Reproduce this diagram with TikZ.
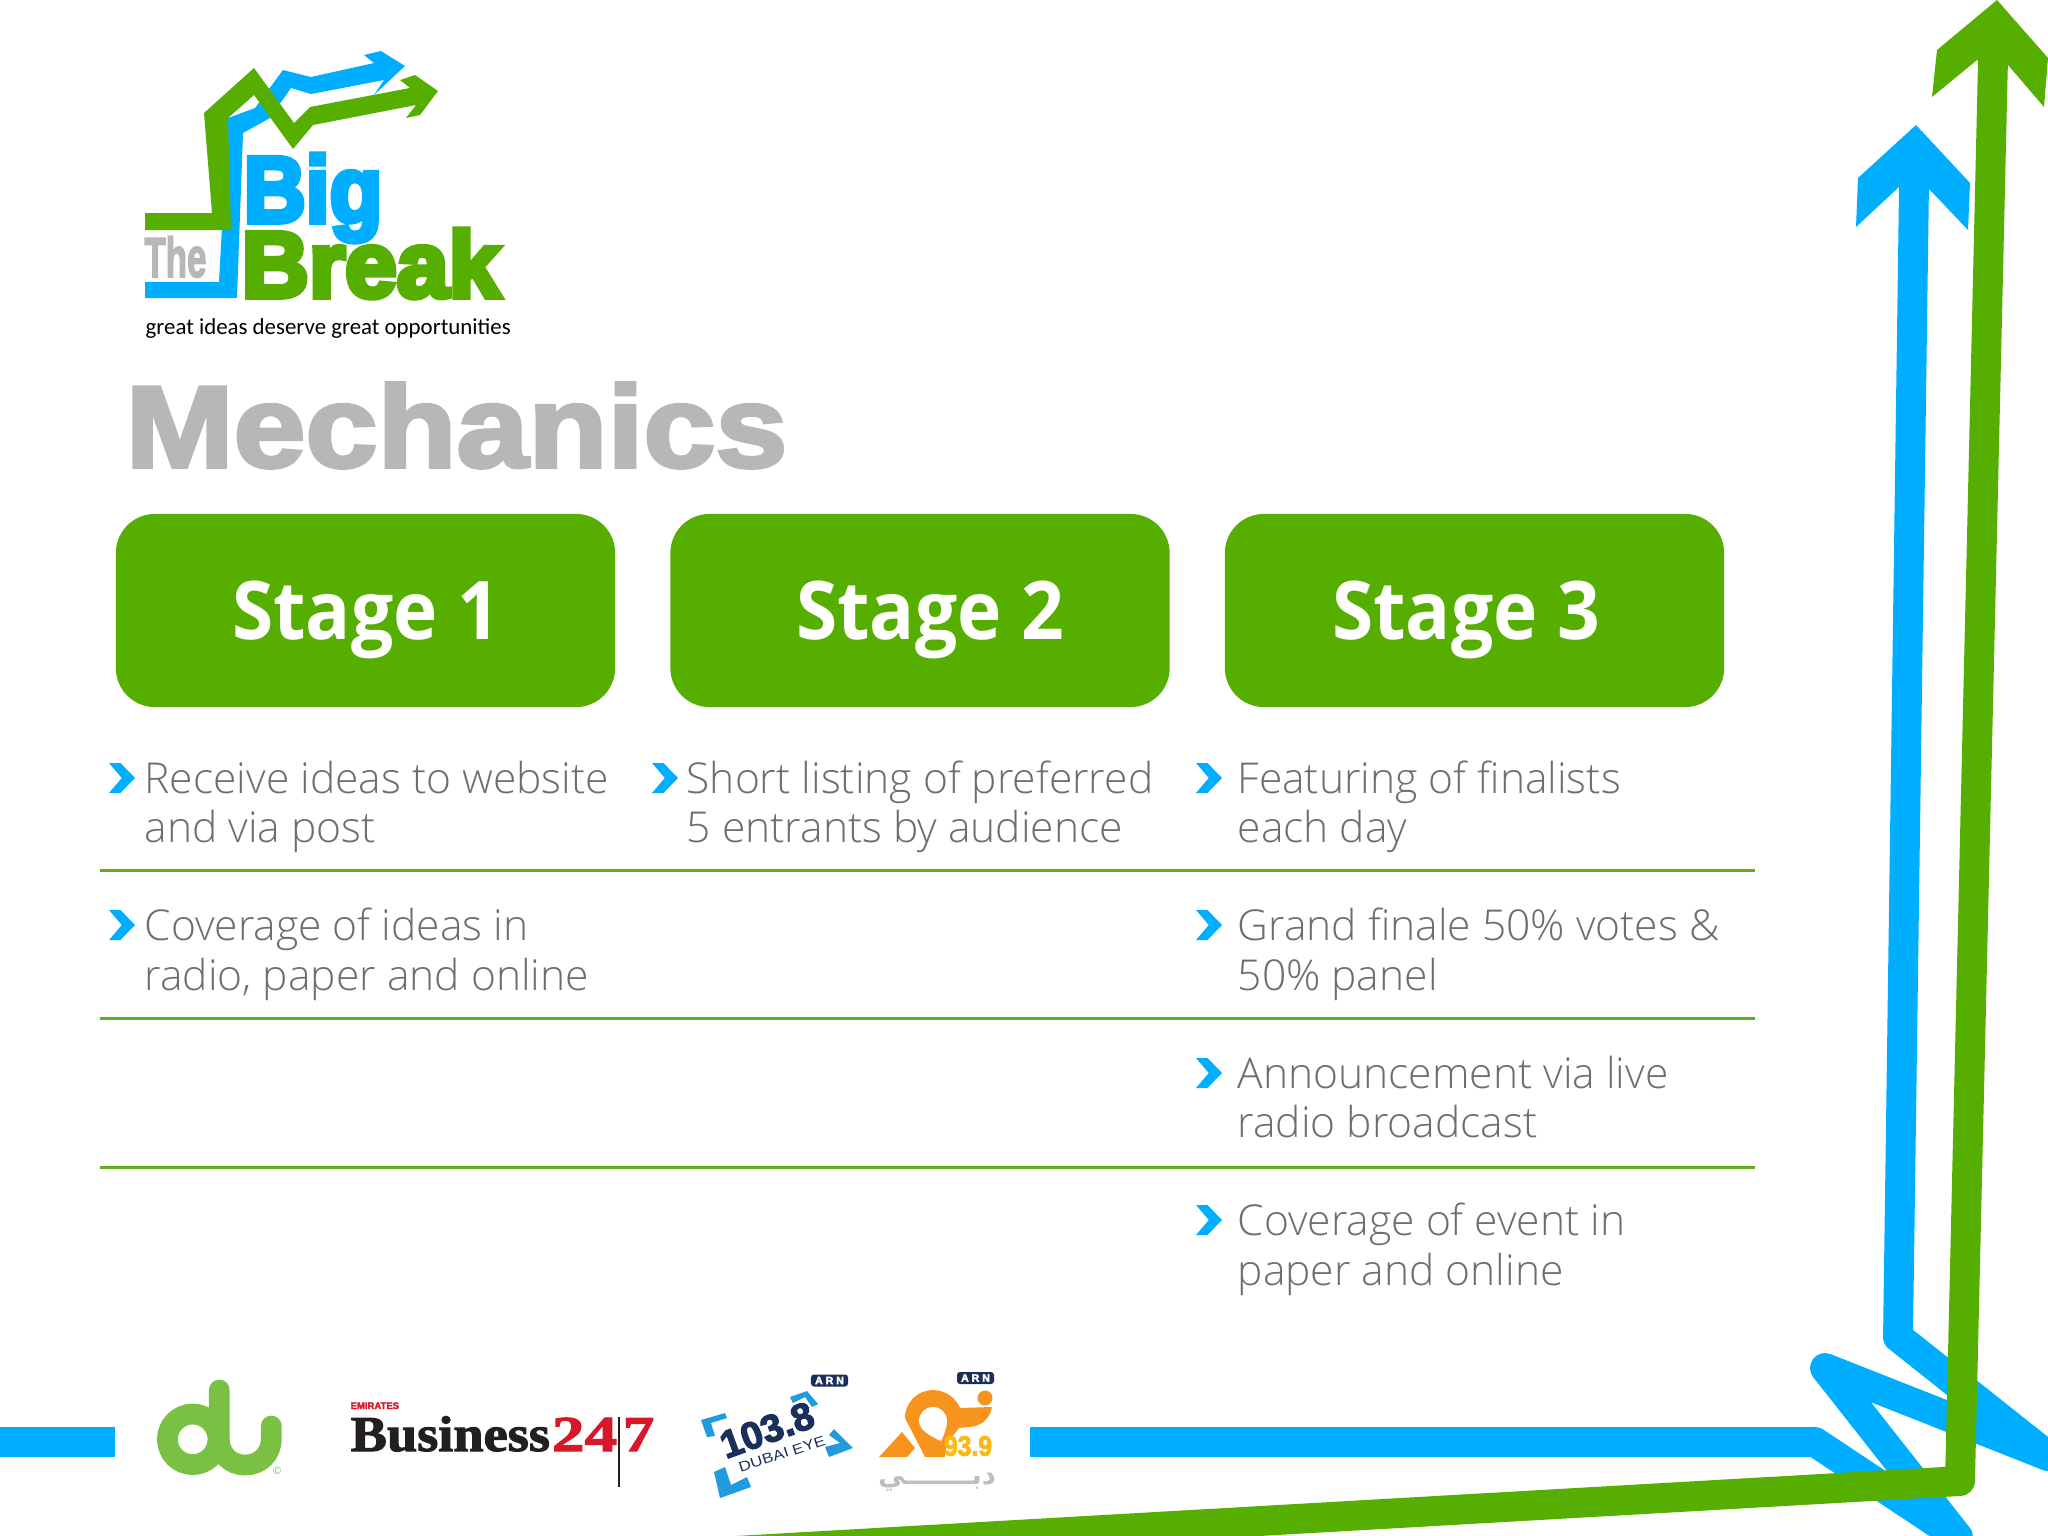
\documentclass[tikz,border=0pt]{standalone}
\usepackage{fontspec}
\setmainfont{Open Sans}
\newfontfamily\bodyfont[UprightFont=* Light]{Open Sans}
\newfontfamily\stagefont{Open Sans}
\newfontfamily\tagfont{Carlito}
\newfontfamily\heavyfont[BoldFeatures={FakeBold=3}]{Liberation Sans}
\newfontfamily\blackfont[BoldFeatures={FakeBold=6}]{Liberation Sans}
\newfontfamily\newsfont[BoldFeatures={FakeBold=2}]{Liberation Serif}
\newfontfamily\arabicfont[Script=Arabic]{DejaVu Sans}
\TeXXeTstate=1
\definecolor{bbgreen}{HTML}{55AE00}
\definecolor{bbblue}{HTML}{00AEFF}
\definecolor{titlegray}{HTML}{B7B7BA}
\definecolor{bodygray}{HTML}{6D6E71}
\definecolor{rulegreen}{HTML}{5DAF1E}
\definecolor{dugreen}{HTML}{7AC143}
\definecolor{newsred}{HTML}{D7182A}
\definecolor{newsblack}{HTML}{231F20}
\definecolor{arnnavy}{HTML}{1B2F5B}
\definecolor{eyeblue}{HTML}{1F9BDE}
\definecolor{arnorange}{HTML}{F7941E}
\definecolor{arnyellow}{HTML}{FDB913}
\definecolor{dubaigray}{HTML}{BCBEC0}
\tikzset{
	stagebox/.style={fill=bbgreen,rounded corners=0.39cm,minimum width=4.99cm,minimum height=1.93cm,inner sep=0pt},
	stagetext/.style={text=white,inner sep=0pt,anchor=base,xscale=0.925,font=\stagefont\bfseries\fontsize{23}{23}\selectfont},
	bodytext/.style={text=bodygray,inner sep=0pt,anchor=base west,align=left,font=\bodyfont\fontsize{12.1}{14.08}\selectfont},
	rowrule/.style={draw=rulegreen,line width=0.85pt},
	bigline/.style={line width=8.5pt,line join=round},
	heavytext/.style={inner sep=0pt,anchor=base west,font=\heavyfont\bfseries\fontsize{#1}{#1}\selectfont},
	blacktext/.style={inner sep=0pt,anchor=base west,font=\blackfont\bfseries\fontsize{#1}{#1}\selectfont},
	newstext/.style={inner sep=0pt,anchor=base west,font=\newsfont\bfseries\fontsize{14.3}{14.3}\selectfont},
	arnbox/.style={fill=arnnavy,text=white,rounded corners=0.03cm,minimum width=0.37cm,minimum height=0.12cm,inner sep=0pt,font=\heavyfont\bfseries\fontsize{3}{3}\selectfont},
	chev/.pic={\fill[bbblue] (0,0)--(11.4,0)--(26,15)--(11.4,30)--(0,30)--(12.8,15)--cycle;}
}
\begin{document}
\begin{tikzpicture}[x=0.01cm,y=-0.01cm]
	\useasboundingbox (0,0) rectangle (2048,1536);
	\clip (0,0) rectangle (2048,1536);
	% big arrows
	\draw[bigline,bbblue] (0,1442) -- (115,1442);
	\draw[bigline,bbblue] (1030,1442) -- (1815,1442) -- (1958,1537) -- (1825,1368) -- (2048,1456) -- (1898,1337) -- (1914,185);
	\fill[bbblue] (1916,125)--(1970,183)--(1968,230)--(1930,190)--(1899,187)--(1856,227)--(1858,178)--cycle;
	\draw[bigline,bbgreen] (1993,60) -- (1960,1481) -- (700,1553);
	\fill[bbgreen] (1997,0)--(2048,58)--(2044,107)--(2008,65)--(1977,60)--(1932,97)--(1937,50)--cycle;
	% logo
	\fill[bbblue] (145,282)--(219,282)--(228,118)--(255,108)--(283,70)--(311,77)--(374,63)--(364,55)--(381,51)--(405,66)--(374,95)--(384,80)--(311,94)--(291,88)--(270,118)--(243,133)--(237,298)--(145,298)--cycle;
	\fill[bbgreen] (145,213)--(212,213)--(204,113)--(254,68)--(294,123)--(310,107)--(410,88)--(400,80)--(415,75)--(438,91)--(420,115)--(406,118)--(416,105)--(313,125)--(293,149)--(254,95)--(228,118)--(231,230)--(145,230)--cycle;
	\node[blacktext=26.6,text=bbblue,xscale=0.92] (bigword) at (243,222) {Big};
	\node[blacktext=26.6,text=bbgreen,xscale=0.995] (breakword) at (241,297) {Break};
	\node[heavytext=16,text=titlegray,xscale=0.62] (theword) at (144,277) {The};
	\node[inner sep=0pt,anchor=base west,font=\tagfont\fontsize{6.5}{6.5}\selectfont] (tagline) at (145,334) {great ideas deserve great opportunities};
	\node[heavytext=33,text=titlegray,xscale=1.115] (mechanics) at (125,467) {Mechanics};
	% stages
	\node[stagebox] (stage1) at (365.5,610.5) {};
	\node[stagebox] (stage2) at (920,610.5) {};
	\node[stagebox] (stage3) at (1474.5,610.5) {};
	\node[stagetext] (stage1text) at (366,639) {Stage 1};
	\node[stagetext] (stage2text) at (930,639) {Stage 2};
	\node[stagetext] (stage3text) at (1466,639) {Stage 3};
	% rows
	\draw[rowrule] (100,870) -- (1755,870);
	\draw[rowrule] (100,1018) -- (1755,1018);
	\draw[rowrule] (100,1167) -- (1755,1167);
	\pic at (109,763) {chev};
	\pic at (652,763) {chev};
	\pic at (1196,763) {chev};
	\pic at (109,910) {chev};
	\pic at (1196,910) {chev};
	\pic at (1196,1058) {chev};
	\pic at (1196,1205) {chev};
	\node[bodytext] (idea1) at (144,842.5) {Receive ideas to website\\and via post};
	\node[bodytext] (idea2) at (144,990) {Coverage of ideas in\\radio, paper and online};
	\node[bodytext] (short1) at (686,842.5) {Short listing of preferred\\5 entrants by audience};
	\node[bodytext] (final1) at (1237,842.5) {Featuring of finalists\\each day};
	\node[bodytext] (final2) at (1237,990) {Grand finale 50\% votes \&\\50\% panel};
	\node[bodytext] (final3) at (1237,1137.5) {Announcement via live\\radio broadcast};
	\node[bodytext] (final4) at (1237,1285) {Coverage of event in\\paper and online};
	% du
	\draw[dugreen,line width=5.9pt] (192.7,1439.3) circle (25.3);
	\draw[dugreen,line width=5.9pt,line cap=round] (219.3,1390) -- (219.3,1439) .. controls (219.3,1454) and (230,1465) .. (245.3,1465) .. controls (260,1465) and (271.3,1454) .. (271.3,1439) -- (271.3,1426);
	\node[text=dugreen,inner sep=0pt,font=\fontsize{3}{3}\selectfont] (ducopy) at (277,1471) {©};
	% business 24/7
	\node[inner sep=0pt,anchor=base west,text=newsred,font=\heavyfont\bfseries\fontsize{2.7}{2.7}\selectfont] (emirates) at (350,1409) {EMIRATES};
	\node[newstext,text=newsblack,xscale=1.08] (business) at (350,1451) {Business};
	\node[newstext,text=newsred,xscale=1.3] (twofour) at (551,1451) {24};
	\node[newstext,text=newsred,xscale=1.25] (seven) at (622,1451) {7};
	\draw[newsblack,line width=0.35pt] (619,1417) -- (619,1487);
	% dubai eye
	\node[arnbox] (arneye) at (829.5,1380.5) {A R N};
	\fill[eyeblue] (701,1420)--(725,1413)--(727,1418)--(711,1423)--(715,1436)--(707,1437)--cycle;
	\fill[eyeblue] (790,1397)--(807,1391)--(818,1404)--(812,1407)--(805,1397)--(793,1403)--cycle;
	\fill[eyeblue] (834,1429)--(853,1448)--(829,1457)--(825,1447)--(840,1443)--(829,1435)--cycle;
	\fill[eyeblue] (714,1472)--(725,1467)--(731,1485)--(747,1477)--(751,1487)--(720,1498)--cycle;
	\node[inner sep=0pt,rotate=20,text=arnnavy,font=\heavyfont\bfseries\fontsize{11}{11}\selectfont] (eyefreq) at (767,1430) {103.8};
	\node[inner sep=0pt,rotate=18,xscale=1.2,text=arnnavy,font=\heavyfont\fontsize{4}{4}\selectfont] (eyename) at (782,1454) {DUBAI EYE};
	% dubai 93.9
	\node[arnbox] (arndubai) at (975.5,1378) {A R N};
	\fill[arnorange] (879,1457)--(902,1432)--(915,1448)--(907,1457)--cycle;
	\fill[arnorange] (905,1418) .. controls (905,1402) and (918,1390) .. (933,1390) .. controls (948,1390) and (962,1402) .. (962,1418) .. controls (962,1428) and (952,1436) .. (947,1442) -- (945,1457) -- (925,1457) -- cycle;
	\fill[white] (919,1421) .. controls (919,1413) and (925,1407) .. (933,1407) .. controls (941,1407) and (947,1413) .. (947,1421) .. controls (947,1428) and (944,1435) .. (941,1441) .. controls (930,1436) and (919,1430) .. (919,1421) -- cycle;
	\fill[arnorange] (958,1408) -- (992,1407) .. controls (990,1418) and (982,1426) .. (970,1427) -- (957,1428) -- cycle;
	\fill[arnorange] (985,1398) circle (7.5);
	\node[inner sep=0pt,xscale=0.88,text=arnyellow,font=\heavyfont\bfseries\fontsize{8}{8}\selectfont] (dubaifreq) at (968,1446) {93.9};
	\node[inner sep=0pt,text=dubaigray,font=\arabicfont\bfseries\fontsize{7.8}{7.8}\selectfont] (dubainame) at (937,1482) {\beginR دبـــــــي\endR};
\end{tikzpicture}
\end{document}
